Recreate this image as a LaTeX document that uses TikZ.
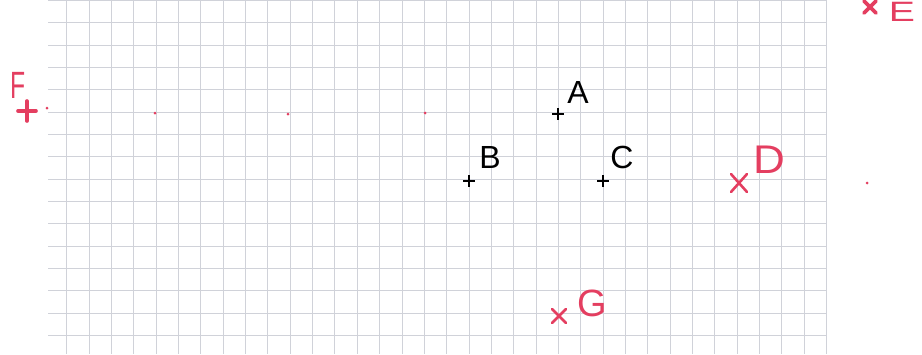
\documentclass[tikz,border=0pt]{standalone}
\usepackage{fontspec}
\setmainfont{Liberation Sans}
\usetikzlibrary{positioning}
\definecolor{gridgray}{RGB}{208,210,217}
\definecolor{penred}{RGB}{228,62,96}

\begin{document}
\begin{tikzpicture}[x=0.5pt,y=-0.5pt]
    \tikzstyle{gridline}=[gridgray, line width=0.45pt]
    \tikzstyle{blackmark}=[black, line width=1pt]
    \tikzstyle{redmark}=[penred, line width=1.3pt, line cap=round]
    \tikzstyle{letter}=[inner sep=0pt, font=\fontsize{16}{18}\selectfont]
    \tikzstyle{penletter}=[inner sep=0pt, text=penred, font=\fontsize{19}{22}\selectfont]
    \useasboundingbox (0,0) rectangle (922,354);
    \fill[white] (0,0) rectangle (922,354);
    % squared paper
    \foreach \k in {0,...,34}
        \draw[gridline] ({66.7+22.35*\k},0) -- ({66.7+22.35*\k},354);
    \foreach \j in {0,...,15}
        \draw[gridline] (48,{0.35+22.35*\j}) -- (827,{0.35+22.35*\j});
    % printed points
    \coordinate (A) at (558,114);
    \coordinate (B) at (469,181);
    \coordinate (C) at (603,181);
    \foreach \p in {A,B,C}
        \draw[blackmark] (\p) ++(-6,0) -- ++(12,0) (\p) ++(0,-6) -- ++(0,12);
    \node[letter] (labA) at (578,92) {A};
    \node[letter] (labB) at (490,157) {B};
    \node[letter] (labC) at (622,157) {C};
    % pen marks
    \coordinate (F) at (27,111);
    \coordinate (E) at (870,7);
    \coordinate (D) at (739,183);
    \coordinate (G) at (559,316);
    \draw[redmark, line width=1.8pt] (F) ++(-9,0) -- ++(18,0) (F) ++(0,-10) -- ++(0,20);
    \draw[redmark, line width=1.8pt] (E) ++(-6,-6) -- ++(12,12) (E) ++(-6,6) -- ++(12,-12);
    \draw[redmark] (D) ++(-8,-9) -- ++(16,18) (D) ++(-8,9) -- ++(16,-18);
    \draw[redmark] (G) ++(-7,-7) -- ++(14,14) (G) ++(-7,7) -- ++(14,-14);
    \node[penletter, xscale=0.65] (labF) at (18,85) {F};
    \node[penletter, xscale=1.4, font=\fontsize{14}{16}\selectfont] (labE) at (902,12) {E};
    \node[penletter, xscale=1.1, font=\fontsize{20}{22}\selectfont] (labD) at (769,160) {D};
    \node[penletter] (labG) at (592,303) {G};
    % small pen dots
    \foreach \x/\y in {47/108, 155/113, 288/114, 425/113, 867/183}
        \fill[penred] (\x,\y) circle (1.5);
\end{tikzpicture}
\end{document}
